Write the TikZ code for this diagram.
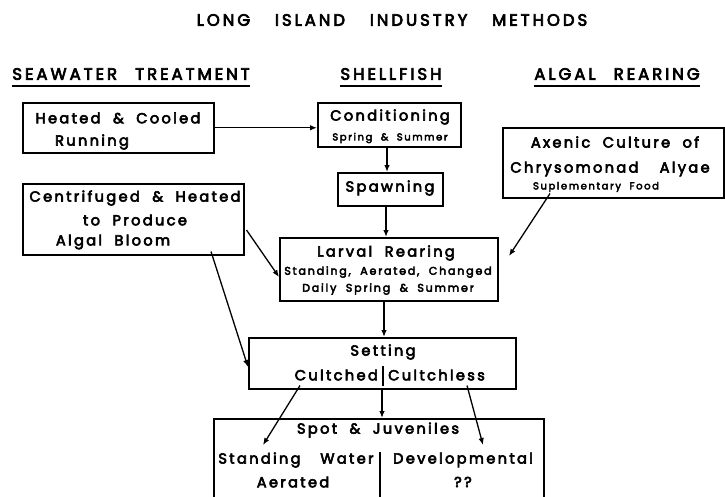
\documentclass[tikz,border=0pt]{standalone}
\usepackage{fontspec}
\setmainfont{Poppins}[LetterSpace=16,WordSpace=2,FakeBold=4]
\usetikzlibrary{arrows.meta,calc}
\begin{document}
\begin{tikzpicture}[x=1pt,y=-1pt,
  box/.style={draw,line width=1.5pt,inner sep=0pt,anchor=north west},
  big/.style={font=\fontsize{14.6}{16}\selectfont,inner sep=0pt},
  head/.style={font=\fontsize{16.5}{18}\selectfont\addfontfeatures{LetterSpace=18},inner sep=0pt},
  sm/.style={font=\fontsize{10}{12}\selectfont,inner sep=0pt},
  mid/.style={font=\fontsize{11.1}{13}\selectfont,inner sep=0pt},
  arr/.style={line width=1.3pt,-{Latex[length=7pt,width=5.5pt]}},
  uline/.style={line width=1.8pt}]
\clip (0,0) rectangle (725,496);
\fill[white] (0,0) rectangle (725,496);
% title and headings
\node[head] (title) at (392,20) {LONG\hspace{1.5em}ISLAND\hspace{1.5em}INDUSTRY\hspace{1.5em}METHODS};
\node[head] (h1) at (131,74) {SEAWATER\hspace{1.1em}TREATMENT};
\node[head] (h2) at (391,74) {SHELLFISH};
\node[head] (h3) at (617,74) {ALGAL\hspace{1.1em}REARING};
\draw[uline] ([yshift=-6pt]h1.south west) -- ([yshift=-6pt]h1.south east);
\draw[uline] ([yshift=-6pt]h2.south west) -- ([yshift=-6pt]h2.south east);
\draw[uline] ([yshift=-6pt]h3.south west) -- ([yshift=-6pt]h3.south east);
% boxes
\node[box,minimum width=191pt,minimum height=50pt] (heat) at (22,102) {};
\node[box,minimum width=143pt,minimum height=44pt] (cond) at (317,102) {};
\node[box,minimum width=105pt,minimum height=33pt] (spawn) at (337,172) {};
\node[box,minimum width=221pt,minimum height=70pt] (axen) at (502,127) {};
\node[box,minimum width=221pt,minimum height=71pt] (centri) at (22,183) {};
\node[box,minimum width=218pt,minimum height=63pt] (larv) at (279,237) {};
\node[box,minimum width=267pt,minimum height=51pt] (sett) at (248,337) {};
\node[box,minimum width=330pt,minimum height=110pt] (spot) at (213,418) {};
% texts
\node[big] (heatA) at (118,118) {Heated \& Cooled};
\node[big] (heatB) at (92,142) {Running};
\node[big] (condA) at (390,117) {Conditioning};
\node[sm] (condB) at (390,138) {Spring \& Summer};
\node[big] (spawnA) at (390,188) {Spawning};
\node[big] (axenA) at (615,142) {Axenic Culture of};
\node[big] (axenB) at (610,169) {Chrysomonad\hspace{0.6em} Alyae};
\node[sm] (axenC) at (596,187) {Suplementary Food};
\node[big] (centA) at (135,198) {Centrifuged \& Heated};
\node[big] (centB) at (135,220) {to Produce};
\node[big] (centC) at (113,242) {Algal Bloom};
\node[big] (larvA) at (386,253) {Larval Rearing};
\node[mid] (larvB) at (388,272) {Standing, Aerated, Changed};
\node[mid] (larvC) at (388,289) {Daily Spring \& Summer};
\node[big] (settA) at (383,352) {Setting};
\node[big,anchor=east] (settB) at (378,375) {Cultched};
\node[big,anchor=west] (settC) at (388,375) {Cultchless};
\node[big] (spotA) at (378,430) {Spot \& Juveniles};
\node[big] (spotB) at (296,460) {Standing\hspace{0.5em} Water};
\node[big] (spotC) at (293,482) {Aerated};
\node[big] (spotD) at (463,460) {Developmental};
\node[big] (spotE) at (463,482) {??};
% dividers
\coordinate (dv1) at (383,366);
\coordinate (dv2) at (383,386);
\draw[line width=1.3pt] (dv1) -- (dv2);
\coordinate (dv3) at (380,452);
\coordinate (dv4) at (380,500);
\draw[line width=1.3pt] (dv3) -- (dv4);
% connectors
\draw[arr] (heat.east) -- (heat.east -| cond.west);
\draw[arr] ($(cond.south west)+(70,0)$) -- ($(spawn.north west)+(50,0)$);
\draw[arr] ($(spawn.south west)+(49,0)$) -- ($(larv.north west)+(107,0)$);
\draw[arr] ($(larv.south west)+(105,0)$) -- ($(sett.north west)+(136,0)$);
\draw[arr] ($(sett.south west)+(134,0)$) -- ($(spot.north west)+(169,0)$);
\coordinate (tipL) at (263,445);
\coordinate (tipR) at (483,445);
\coordinate (tipAx) at (509,256);
\draw[arr] ($(sett.south west)+(52,-4)$) -- (tipL);
\draw[arr] ($(sett.south west)+(219,-4)$) -- (tipR);
\draw[arr] ($(axen.south west)+(48,-5)$) -- (tipAx);
\draw[arr] ($(centri.north east)+(2,47)$) -- ($(larv.north west)+(0,40)$);
\draw[arr] ($(centri.south west)+(189,-4)$) -- ($(sett.north west)+(0,30)$);
\end{tikzpicture}
\end{document}
